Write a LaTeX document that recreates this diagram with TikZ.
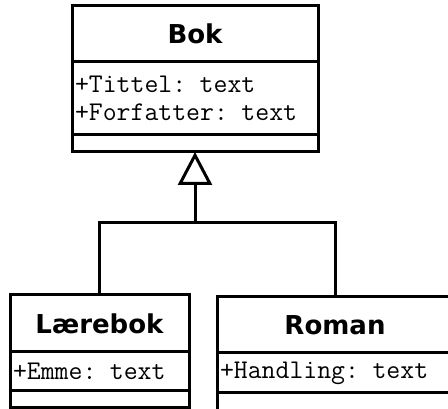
\documentclass[tikz,border=0pt]{standalone}
\usepackage{fontspec}
\newfontfamily\headfont{DejaVu Sans}
\usetikzlibrary{positioning, arrows.meta}

\tikzset{
  part/.style={draw, line width=3pt, outer sep=0pt, inner sep=0pt},
  head/.style={part, font=\headfont\bfseries\fontsize{26}{30}\selectfont},
  attrs/.style={part, inner xsep=3pt, align=left, font=\ttfamily\fontsize{27}{28}\selectfont},
  ops/.style={part},
  inherit/.style={line width=3pt, -{Triangle[open, length=33pt, width=34pt]}}
}

\begin{document}
\begin{tikzpicture}[x=1pt, y=-1pt]
    \clip (0,0) rectangle (448,409);
    \fill[white] (0,0) rectangle (448,409);

    % superclass
    \node[head, minimum width=246pt, minimum height=56pt] (bok) at (195,34) {Bok};
    \node[attrs, minimum width=246pt, minimum height=73pt, text width=240pt, below=0pt of bok] (bokattr)
        {+Tittel: text\\+Forfatter: text};
    \node[ops, minimum width=246pt, minimum height=17pt, below=0pt of bokattr] (bokops) {};

    % subclasses
    \node[head, minimum width=179pt, minimum height=57pt] (laerebok) at (99.5,323.5) {Lærebok};
    \node[attrs, minimum width=179pt, minimum height=39pt, text width=173pt, below=0pt of laerebok] (laerebokattr)
        {+Emme: text};
    \node[ops, minimum width=179pt, minimum height=17pt, below=0pt of laerebokattr] (laerebokops) {};

    \node[head, minimum width=236pt, minimum height=56pt] (roman) at (335,325) {Roman};
    \node[attrs, minimum width=236pt, minimum height=40pt, text width=230pt, below=0pt of roman] (romanattr)
        {+Handling: text};
    \node[ops, minimum width=236pt, minimum height=18pt, below=0pt of romanattr] (romanops) {};

    % generalisation
    \coordinate (join) at (195,223);
    \draw[line width=3pt] (laerebok.north) |- (join) -| (roman.north);
    \draw[inherit] (join) -- (bokops.south);
\end{tikzpicture}
\end{document}
